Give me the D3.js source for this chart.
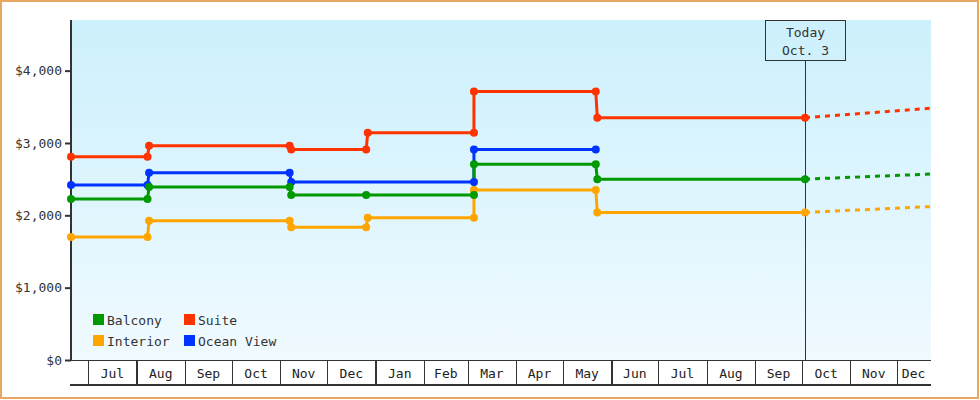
<!DOCTYPE html>
<html>
<head>
<meta charset="utf-8">
<script src="https://cdn.jsdelivr.net/npm/d3@7"></script>
<style>
  html, body { margin: 0; padding: 0; background: #fff; }
  svg { display: block; }
  text { font-family: "DejaVu Sans Mono", "Liberation Mono", monospace; }
</style>
</head>
<body>
<svg id="chart" width="980" height="400"></svg>
<script>
// ---- data ----
const seriesNames = ["Balcony", "Suite", "Interior", "Ocean View"];
const seriesColors = ["#009900", "#ff3300", "#ffa500", "#0033ff"];

const balcony = [["2014-06-20",2225],["2014-08-08",2225],["2014-08-09",2390],["2014-11-07",2390],["2014-11-08",2280],["2014-12-26",2280],["2015-03-05",2280],["2015-03-05",2705],["2015-05-22",2705],["2015-05-23",2500],["2015-10-03",2500]];
const suite = [["2014-06-20",2810],["2014-08-08",2810],["2014-08-09",2960],["2014-11-07",2960],["2014-11-08",2910],["2014-12-26",2910],["2014-12-27",3140],["2015-03-05",3140],["2015-03-05",3710],["2015-05-22",3710],["2015-05-23",3350],["2015-10-03",3350]];
const interior = [["2014-06-20",1700],["2014-08-08",1700],["2014-08-09",1925],["2014-11-07",1925],["2014-11-08",1835],["2014-12-26",1835],["2014-12-27",1965],["2015-03-05",1965],["2015-03-05",2350],["2015-05-22",2350],["2015-05-23",2040],["2015-10-03",2040]];
const oceanView = [["2014-06-20",2420],["2014-08-08",2420],["2014-08-09",2590],["2014-11-07",2590],["2014-11-08",2460],["2015-03-05",2460],["2015-03-05",2910],["2015-05-22",2910]];

const balconyProj = [["2015-10-03",2500],["2015-12-22",2570]];
const suiteProj = [["2015-10-03",3350],["2015-12-22",3480]];
const interiorProj = [["2015-10-03",2040],["2015-12-22",2120]];
const oceanViewProj = [];

const yTicks = [0, 1000, 2000, 3000, 4000];
const xStart = "2014-06-20", xEnd = "2015-12-22";
const todayDate = "2015-10-03";
const todayLabel = ["Today", "Oct. 3"];

// ---- setup ----
const parse = d3.timeParse("%Y-%m-%d");
const svg = d3.select("#chart");
const L = 71, R = 930, T = 20, B = 360;

const x = d3.scaleTime().domain([parse(xStart), parse(xEnd)]).range([L, R]);
const y = d3.scaleLinear().domain([0, 4700]).range([B, T]);

// frame
svg.append("rect").attr("x", 1).attr("y", 1).attr("width", 977).attr("height", 397)
  .attr("fill", "#fff").attr("stroke", "#e9a862").attr("stroke-width", 2);

// background gradient
const defs = svg.append("defs");
const grad = defs.append("linearGradient").attr("id", "bg").attr("x1", 0).attr("y1", 0).attr("x2", 0).attr("y2", 1);
grad.append("stop").attr("offset", "0%").attr("stop-color", "#ccf0fc");
grad.append("stop").attr("offset", "100%").attr("stop-color", "#f0faff");
svg.append("rect").attr("x", L).attr("y", T).attr("width", R - L + 1).attr("height", B - T).attr("fill", "url(#bg)");

// x axis band with month cells
const monthStarts = d3.timeMonth.range(d3.timeMonth.ceil(parse(xStart)), parse(xEnd));
const xAxis = d3.axisBottom(x).tickValues(monthStarts).tickSize(25).tickFormat("");
const gx = svg.append("g").attr("transform", `translate(0,${B})`).call(xAxis);
gx.select(".domain").remove();
gx.selectAll(".tick line").attr("stroke", "#333").attr("stroke-width", 1.3).attr("shape-rendering", "crispEdges");
svg.append("line").attr("x1", L - 1).attr("x2", R + 1).attr("y1", B + 0.5).attr("y2", B + 0.5)
  .attr("stroke", "#333").attr("stroke-width", 1.3).attr("shape-rendering", "crispEdges");
svg.append("line").attr("x1", L - 1).attr("x2", R + 1).attr("y1", B + 25).attr("y2", B + 25)
  .attr("stroke", "#333").attr("stroke-width", 1.3).attr("shape-rendering", "crispEdges");

const bounds = [x.domain()[0], ...monthStarts, x.domain()[1]];
const fmtMonth = d3.timeFormat("%b");
for (let i = 0; i < bounds.length - 1; i++) {
  const a = x(bounds[i]), b = x(bounds[i + 1]);
  if (b - a < 25) continue;
  const mDate = i === 0 ? bounds[0] : bounds[i];
  svg.append("text").attr("x", (a + b) / 2).attr("y", B + 18)
    .attr("text-anchor", "middle").attr("font-size", 13).attr("fill", "#222")
    .text(fmtMonth(mDate));
}

// y axis
const yAxis = d3.axisLeft(y).tickValues(yTicks).tickSize(6).tickPadding(3).tickFormat(d3.format("$,"));
const gy = svg.append("g").attr("transform", `translate(${L},0)`).call(yAxis);
gy.select(".domain").remove();
gy.selectAll(".tick line").attr("stroke", "#333").attr("stroke-width", 2);
gy.selectAll(".tick text").attr("font-size", 13).attr("fill", "#333")
  .attr("font-family", "DejaVu Sans Mono, monospace");
svg.append("line").attr("x1", L).attr("x2", L).attr("y1", T).attr("y2", B + 1)
  .attr("stroke", "#333").attr("stroke-width", 2);

// today marker
const tx = x(parse(todayDate));
svg.append("line").attr("x1", Math.round(tx) + 0.5).attr("x2", Math.round(tx) + 0.5).attr("y1", T + 40).attr("y2", B)
  .attr("stroke", "#333").attr("stroke-width", 1);
svg.append("rect").attr("x", Math.round(tx) - 39.5).attr("y", T + 0.5).attr("width", 80).attr("height", 40)
  .attr("fill", "none").attr("stroke", "#333").attr("stroke-width", 1);
todayLabel.forEach((t, i) => {
  svg.append("text").attr("x", Math.round(tx) + 0.5).attr("y", T + 17 + i * 18)
    .attr("text-anchor", "middle").attr("font-size", 13).attr("fill", "#333").text(t);
});

// series
const allSeries = [balcony, suite, interior, oceanView];
const allProj = [balconyProj, suiteProj, interiorProj, oceanViewProj];
const line = d3.line().x(d => x(parse(d[0]))).y(d => y(d[1]));
const drawOrder = [3, 2, 1, 0];

drawOrder.forEach(i => {
  if (allProj[i].length) {
    svg.append("path").datum(allProj[i]).attr("d", line)
      .attr("fill", "none").attr("stroke", seriesColors[i]).attr("stroke-width", 3)
      .attr("stroke-dasharray", "5,5");
  }
  svg.append("path").datum(allSeries[i]).attr("d", line)
    .attr("fill", "none").attr("stroke", seriesColors[i]).attr("stroke-width", 3);
});
drawOrder.forEach(i => {
  svg.append("g").selectAll("circle").data(allSeries[i]).join("circle")
    .attr("cx", d => x(parse(d[0]))).attr("cy", d => y(d[1])).attr("r", 4)
    .attr("fill", seriesColors[i]);
});

// legend
const legendPos = [[93, 314], [184, 314], [93, 335], [184, 335]];
seriesNames.forEach((n, i) => {
  const [lx, ly] = legendPos[i];
  svg.append("rect").attr("x", lx).attr("y", ly).attr("width", 11).attr("height", 11).attr("fill", seriesColors[i]);
  svg.append("text").attr("x", lx + 14).attr("y", ly + 11).attr("font-size", 13).attr("fill", "#333").text(n);
});
</script>
</body>
</html>
